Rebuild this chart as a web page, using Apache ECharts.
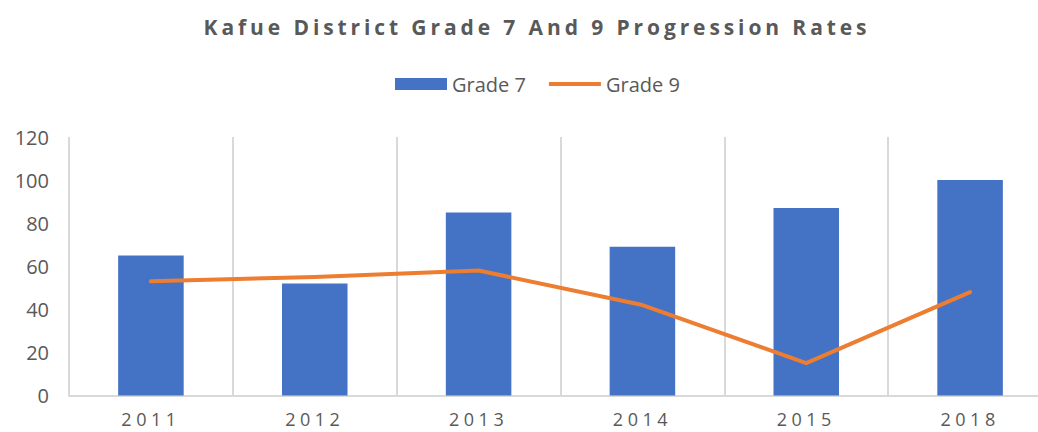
<!DOCTYPE html>
<html>
<head>
<meta charset="utf-8">
<script src="https://cdn.jsdelivr.net/npm/echarts@6/dist/echarts.min.js"></script>
<style>
  html, body { margin: 0; padding: 0; background: #fff; overflow: hidden; width: 1038px; height: 432px; }
  /* The plot runs past the right edge of the page, so the canvas is wider than the window */
  #chart { width: 1074px; height: 432px; }
</style>
</head>
<body>
<div id="chart"></div>
<script>
// Progression rates by year
const chartTitle = 'Kafue District Grade 7 And 9 Progression Rates';
const years = ['2011', '2012', '2013', '2014', '2015', '2018'];
const grade7 = [65, 52, 85, 69, 87, 100];
const grade9 = [53, 55, 58, 42, 15, 48];

const textGray = '#595959';
const gridGray = '#d9d9d9';

const chart = echarts.init(document.getElementById('chart'), null, { renderer: 'svg' });

chart.setOption({
  animation: false,
  backgroundColor: '#fff',
  title: {
    text: chartTitle,
    left: 'center',
    top: 11,
    textStyle: { fontFamily: 'Open Sans', fontWeight: 'bold', fontSize: 21, color: textGray }
  },
  legend: {
    top: 69,
    left: 390,
    itemGap: 23,
    itemWidth: 52,
    itemHeight: 12,
    textStyle: { fontFamily: 'Open Sans', fontSize: 20, color: textGray },
    data: [
      { name: 'Grade 7', icon: 'rect' },
      { name: 'Grade 9', icon: 'path://M0,0 L52,0 L52,4 L0,4 Z' }
    ]
  },
  grid: { left: 69, right: 22, top: 137, bottom: 36.5, containLabel: false },
  xAxis: {
    type: 'category',
    data: years,
    boundaryGap: true,
    axisLine: { show: true, lineStyle: { color: gridGray, width: 2 } },
    axisTick: { show: false },
    splitLine: { show: true, showMinLine: true, lineStyle: { color: gridGray, width: 2 } },
    axisLabel: { fontFamily: 'Open Sans', fontSize: 18, color: textGray, margin: 14 }
  },
  yAxis: {
    type: 'value',
    min: 0,
    max: 120,
    interval: 20,
    axisLine: { show: false },
    axisTick: { show: false },
    splitLine: { show: false },
    axisLabel: { fontFamily: 'Open Sans', fontSize: 20, color: textGray, margin: 20 }
  },
  series: [
    {
      name: 'Grade 7',
      type: 'bar',
      data: grade7,
      barWidth: '40%',
      itemStyle: { color: '#4472c4' }
    },
    {
      name: 'Grade 9',
      type: 'line',
      data: grade9,
      symbol: 'none',
      lineStyle: { color: '#ed7d31', width: 4, cap: 'round', join: 'round' },
      itemStyle: { color: '#ed7d31' }
    }
  ]
});

// Tracked lettering for the title and the year labels
function applySpacing() {
  document.querySelectorAll('#chart text').forEach(function (t) {
    const s = t.textContent;
    if (s === chartTitle) t.style.letterSpacing = '3.9px';
    else if (years.indexOf(s) >= 0) t.style.letterSpacing = '4.5px';
  });
}
chart.on('finished', applySpacing);
applySpacing();
</script>
</body>
</html>
